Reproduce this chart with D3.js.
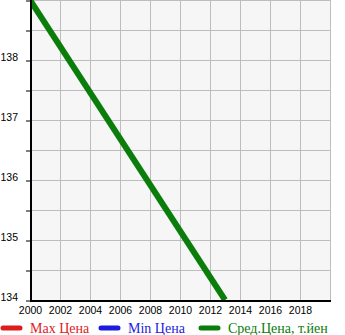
<!DOCTYPE html>
<html><head><meta charset="utf-8">
<script src="https://cdn.jsdelivr.net/npm/d3@7"></script>
<style>body{margin:0;background:#fff}svg{display:block}</style>
</head><body>
<script>
const years = [2000, 2013];
const avgPrice = [139, 134];
const maxPrice = [];
const minPrice = [];
const xTicks = [2000, 2002, 2004, 2006, 2008, 2010, 2012, 2014, 2016, 2018];
const yTicks = [134, 134.5, 135, 135.5, 136, 136.5, 137, 137.5, 138, 138.5, 139];
const yLabels = [134, 135, 136, 137, 138];
const legendItems = [
  {name: "Max Цена", color: "#dd1c1c"},
  {name: "Min Цена", color: "#1c1cdd"},
  {name: "Сред.Цена, т.йен", color: "#0a7d0a"}
];

const W = 345, H = 335;
const m = {l: 30, r: 15, t: 0, b: 35};
const svg = d3.select("body").append("svg").attr("width", W).attr("height", H);
const x = d3.scaleLinear().domain([2000, 2020]).range([m.l, W - m.r]);
const y = d3.scaleLinear().domain([134, 139]).range([H - m.b, m.t]);

svg.append("rect").attr("x", m.l).attr("y", m.t).attr("width", x(2020) - m.l).attr("height", y(134) - m.t)
  .attr("fill", "#f6f6f6").attr("stroke", "#bdbdbd").attr("stroke-width", 1)
  .attr("shape-rendering", "crispEdges");

const g = svg.append("g").attr("shape-rendering", "crispEdges");
g.selectAll(".vg").data(xTicks.concat([2020])).join("line")
  .attr("x1", d => x(d)).attr("x2", d => x(d)).attr("y1", m.t).attr("y2", y(134))
  .attr("stroke", "#bdbdbd").attr("stroke-width", 1);
g.selectAll(".hg").data(yTicks).join("line")
  .attr("x1", m.l).attr("x2", x(2020)).attr("y1", d => y(d) + 0.5).attr("y2", d => y(d) + 0.5)
  .attr("stroke", "#bdbdbd").attr("stroke-width", 1);

svg.append("defs").append("clipPath").attr("id", "clip").append("rect")
  .attr("x", m.l).attr("y", m.t).attr("width", x(2020) - m.l).attr("height", y(134) - m.t);

const line = d3.line().x(d => x(d[0])).y(d => y(d[1]));
svg.append("path").datum(years.map((yr, i) => [yr, avgPrice[i]]))
  .attr("d", line).attr("fill", "none").attr("stroke", "#0a7d0a").attr("stroke-width", 6)
  .attr("clip-path", "url(#clip)");

// axes
const yAxis = d3.axisLeft(y).tickValues(yTicks).tickSize(4).tickFormat(d => yLabels.includes(d) ? d : "");
const ya = svg.append("g").attr("transform", `translate(${m.l},0)`).call(yAxis);
ya.select(".domain").remove();
ya.selectAll(".tick line").attr("stroke", "#000").attr("transform", "translate(0,0.5)");
ya.selectAll(".tick text").attr("x", -12).attr("dy", "0").attr("y", 0)
  .attr("font-family", "Liberation Sans, Arial, sans-serif").attr("font-size", 10.5).attr("fill", "#000");

const xAxis = d3.axisBottom(x).tickValues(xTicks).tickSize(0).tickFormat(d3.format("d"));
const xa = svg.append("g").attr("transform", `translate(0,${y(134)})`).call(xAxis);
xa.select(".domain").remove();
xa.selectAll(".tick text").attr("y", 14).attr("dy", "0")
  .attr("font-family", "Liberation Sans, Arial, sans-serif").attr("font-size", 10.5).attr("fill", "#000");

svg.append("line").attr("x1", m.l + 1).attr("x2", m.l + 1).attr("y1", 0).attr("y2", y(134) + 2)
  .attr("stroke", "#000").attr("stroke-width", 2);
svg.append("line").attr("x1", m.l).attr("x2", x(2020) + 1).attr("y1", y(134) + 1).attr("y2", y(134) + 1)
  .attr("stroke", "#000").attr("stroke-width", 2);

// legend
const legX = [0, 98, 198];
const lg = svg.append("g");
legendItems.forEach((it, i) => {
  const gg = lg.append("g").attr("transform", `translate(${legX[i]},328)`);
  gg.append("line").attr("x1", 3).attr("x2", 20).attr("y1", 0).attr("y2", 0)
    .attr("stroke", it.color).attr("stroke-width", 5).attr("stroke-linecap", "round");
  gg.append("text").attr("x", 30).attr("y", 5).text(it.name)
    .attr("font-family", "Liberation Serif, Times New Roman, serif").attr("font-size", 14).attr("fill", it.color);
});
</script>
</body></html>
